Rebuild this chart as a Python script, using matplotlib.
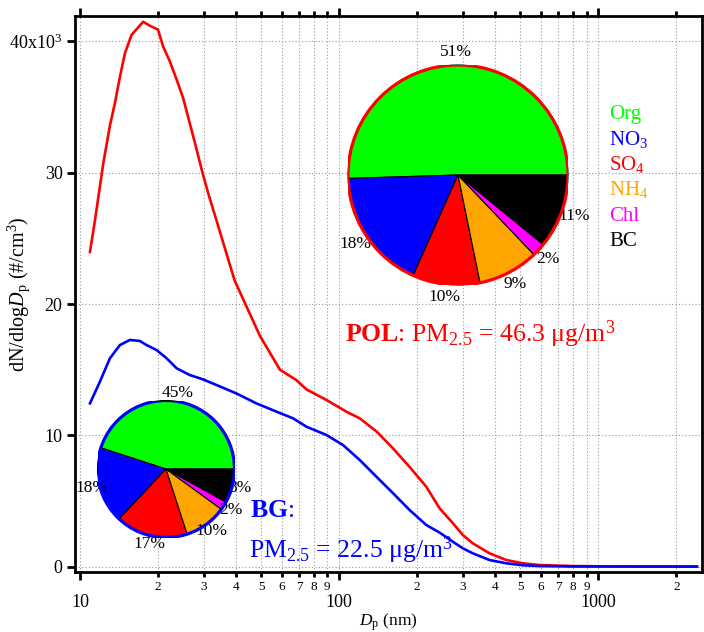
import numpy as np
import matplotlib
matplotlib.use("Agg")
import matplotlib.pyplot as plt
from matplotlib.ticker import LogLocator, FuncFormatter, FixedLocator
from matplotlib.patches import Circle

plt.rcParams['font.family'] = ['Liberation Serif', 'DejaVu Serif']
plt.rcParams['mathtext.fontset'] = 'custom'
plt.rcParams['mathtext.rm'] = 'Liberation Serif'
plt.rcParams['mathtext.it'] = 'Liberation Serif:italic'
plt.rcParams['mathtext.bf'] = 'Liberation Serif:bold'

# size distributions (Dp in nm, dN/dlogDp in 10^3 #/cm3)
dp_pol = [10.93, 11.43, 12.30, 13.05, 13.64, 14.26, 14.91, 15.81, 17.53, 18.6, 20.0, 20.95,
          22.2, 23.6, 25.0, 26.5, 28.0, 29.7, 31.5, 33.6, 39.5, 49.4, 59.1, 68.5, 74.8,
          89.3, 106.7, 120.0, 139.3, 161.5, 186.9, 216.6, 244, 274.6, 300, 327.8, 380,
          441, 511, 592, 796, 1200, 2400]
n_pol = [23.97, 26.4, 30.7, 33.6, 35.3, 37.3, 39.1, 40.5, 41.5, 41.2, 40.9, 39.6,
         38.5, 37.1, 35.7, 33.8, 32.0, 30.0, 28.2, 26.4, 21.8, 17.6, 15.0, 14.2, 13.5,
         12.7, 11.8, 11.3, 10.3, 9.0, 7.6, 6.1, 4.45, 3.31, 2.41, 1.78, 1.02,
         0.51, 0.26, 0.13, 0.05, 0.02, 0.01]

dp_bg = [10.93, 11.94, 13.05, 14.26, 15.58, 17.03, 18.07, 19.75, 21.6, 23.6, 26.5, 29.8,
         33.6, 40.1, 47.9, 57.3, 66.4, 74.8, 89.3, 103.4, 120, 139.3, 161.5, 186.9,
         216.6, 244, 274.6, 300, 327.8, 380, 441, 511, 592, 800, 2400]
n_bg = [12.44, 14.09, 15.87, 16.88, 17.27, 17.19, 16.88, 16.50, 15.87, 15.11, 14.6, 14.27,
        13.84, 13.2, 12.44, 11.81, 11.3, 10.66, 10.03, 9.27, 8.13, 6.85, 5.59, 4.32,
        3.18, 2.6, 1.9, 1.40, 1.02, 0.51, 0.26, 0.11, 0.05, 0.02, 0.01]

# chemical composition
species = ['Org', 'NO$_3$', 'SO$_4$', 'NH$_4$', 'Chl', 'BC']
species_colors = ['#00ff00', '#0000ff', '#ff0000', '#ffa500', '#ff00ff', '#000000']
frac_pol = [51, 18, 10, 9, 2, 11]
frac_bg = [45, 18, 17, 10, 2, 8]

W, H = 704, 632
fig = plt.figure(figsize=(W / 100, H / 100), dpi=100)
ax = fig.add_axes([75 / W, 1 - 571.7 / H, (702 - 75) / W, (571.7 - 16) / H])

ax.plot(dp_pol, np.array(n_pol) * 1000, color='#ff0000', lw=1.9, zorder=3)
ax.plot(dp_bg, np.array(n_bg) * 1000, color='#0000ff', lw=1.9, zorder=3)

ax.set_xscale('log')
ax.set_xlim(9.57, 2510)
ax.set_ylim(-380, 41940)

ax.xaxis.set_major_locator(LogLocator(base=10))
ax.xaxis.set_minor_locator(LogLocator(base=10, subs=np.arange(2, 10)))
ax.xaxis.set_major_formatter(FuncFormatter(lambda v, p: '%d' % round(v)))
ax.xaxis.set_minor_formatter(FuncFormatter(lambda v, p: '%d' % round(v / 10 ** np.floor(np.log10(v) + 1e-9))))
ax.yaxis.set_major_locator(FixedLocator([0, 10000, 20000, 30000, 40000]))
ax.yaxis.set_major_formatter(FuncFormatter(lambda v, p: '40x10$^{3}$' if v >= 40000 else '%d' % round(v / 1000)))

for s in ax.spines.values():
    s.set_linewidth(2.0)
ax.tick_params(axis='x', which='major', direction='out', length=6, width=2, labelsize=13, pad=10, top=True)
ax.tick_params(axis='x', which='minor', direction='out', length=3.5, width=2, labelsize=9.5, pad=3.5, top=True)
ax.tick_params(axis='y', which='major', direction='out', length=6, width=2, labelsize=13, pad=3)
ax.tick_params(axis='y', which='minor', left=False)

ax.grid(True, which='both', axis='x', color='#999999', linestyle=(0, (1, 2)), lw=0.8)
ax.grid(True, which='major', axis='y', color='#999999', linestyle=(0, (1, 2)), lw=0.8)

ax.set_xlabel(r'$\mathit{D}_\mathrm{p}$ (nm)', fontsize=12.5)
ax.set_ylabel(r'dN/dlog$\mathit{D}_\mathrm{p}$ (#/cm$^{3}$)', fontsize=14.5)
ax.xaxis.set_label_coords(0.5, -0.072)
ax.yaxis.set_label_coords(-0.069, 0.5)


def draw_pie(cx, cy, r, fracs, edge, labels_pct):
    pax = fig.add_axes([(cx - r) / W, 1 - (cy + r) / H, 2 * r / W, 2 * r / H])
    wedges, _ = pax.pie(fracs, colors=species_colors, startangle=0, counterclock=True,
                        radius=1, wedgeprops=dict(edgecolor='black', linewidth=0.8))
    pax.add_patch(Circle((0, 0), 1, fill=False, edgecolor=edge, lw=2.3, zorder=5))
    for w, lab in zip(wedges, labels_pct):
        ang = np.deg2rad((w.theta1 + w.theta2) / 2)
        pax.text(1.12 * np.cos(ang), 1.12 * np.sin(ang), lab, ha='center', va='center',
                 fontsize=12.5, clip_on=False)
    pax.set_xlim(-1, 1)
    pax.set_ylim(-1, 1)
    pax.set_aspect('equal')
    pax.axis('off')


draw_pie(458, 175, 110, frac_pol, '#ff0000', ['%d%%' % v for v in frac_pol])
draw_pie(166, 469, 68.5, frac_bg, '#0000ff', ['%d%%' % v for v in frac_bg])

# legend of species
for i, (name, col) in enumerate(zip(species, species_colors)):
    fig.text(609 / W, 1 - (119 + 25.5 * i) / H, name, color=col, fontsize=15, va='baseline')

fig.text(345 / W, 1 - 342 / H, r'$\mathbf{POL}$: PM$_{2.5}$ = 46.3 μg/m$^{3}$',
         color='#ff0000', fontsize=18.5, va='baseline')
fig.text(250 / W, 1 - 517 / H, r'$\mathbf{BG}$:', color='#0000ff', fontsize=18.5, va='baseline')
fig.text(249 / W, 1 - 558 / H, r'PM$_{2.5}$ = 22.5 μg/m$^{3}$', color='#0000ff', fontsize=18.5,
         va='baseline')

fig.savefig('out.png', dpi=100)
